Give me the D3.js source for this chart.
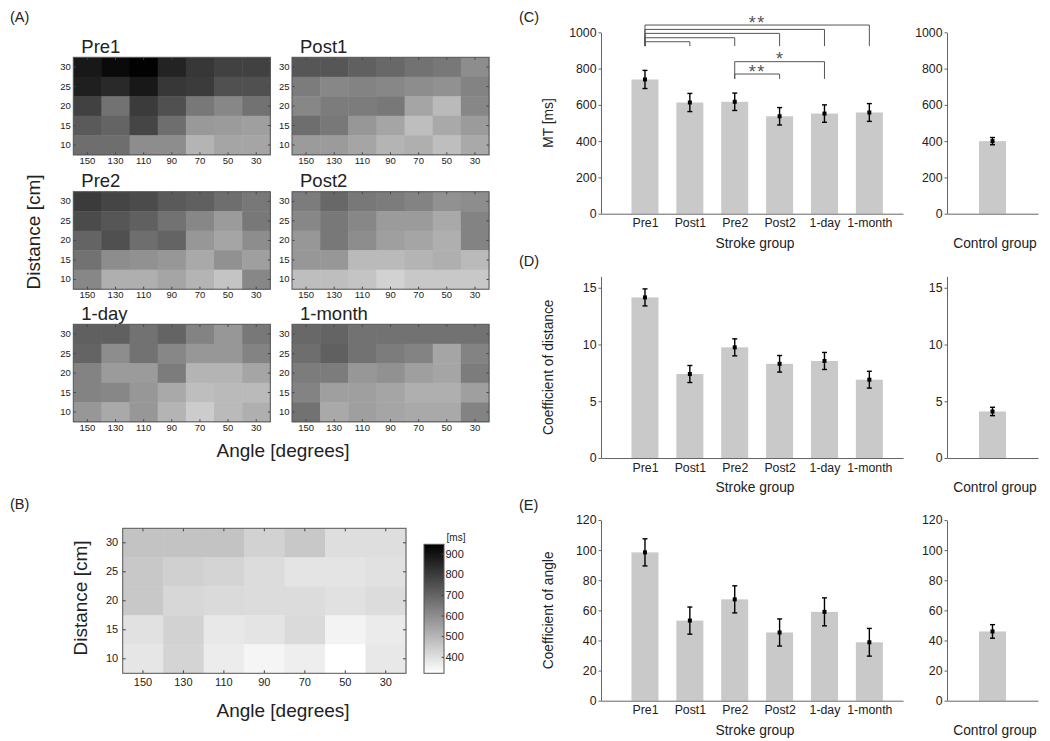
<!DOCTYPE html>
<html><head><meta charset="utf-8">
<script src="https://cdn.jsdelivr.net/npm/d3@7"></script>
<style>
body{margin:0;background:#fff;}
svg{display:block;font-family:"Liberation Sans",Arial,sans-serif;}
</style></head><body>
<svg id="fig" width="1050" height="741"></svg>
<script>
// ---------- data ----------
const angles = [150, 130, 110, 90, 70, 50, 30];
const distances = [30, 25, 20, 15, 10];
const sessions = ["Pre1", "Post1", "Pre2", "Post2", "1-day", "1-month"];

// movement time maps [ms], rows = distance 30..10, cols = angle 150..30
const mapPre1 = [
  [885, 920, 940, 860, 810, 785, 785],
  [870, 845, 885, 810, 800, 750, 750],
  [785, 665, 800, 750, 650, 615, 665],
  [725, 700, 775, 675, 570, 565, 555],
  [675, 675, 600, 600, 505, 540, 540]];
const mapPost1 = [
  [735, 735, 710, 690, 665, 650, 600],
  [640, 615, 625, 615, 600, 590, 625],
  [615, 640, 640, 650, 540, 490, 615],
  [675, 650, 575, 540, 480, 530, 565],
  [565, 565, 540, 505, 515, 480, 530]];
const mapPre2 = [
  [800, 775, 760, 725, 710, 675, 650],
  [760, 735, 710, 665, 615, 565, 650],
  [700, 750, 675, 700, 575, 540, 600],
  [665, 600, 590, 575, 530, 590, 555],
  [615, 515, 515, 540, 505, 465, 615]];
const mapPost2 = [
  [640, 690, 650, 640, 625, 590, 600],
  [615, 650, 615, 565, 565, 530, 625],
  [575, 650, 600, 555, 540, 515, 625],
  [575, 575, 490, 490, 505, 515, 490],
  [480, 480, 465, 430, 455, 455, 455]];
const map1day = [
  [710, 710, 665, 700, 625, 575, 650],
  [700, 600, 665, 615, 575, 575, 625],
  [625, 565, 565, 640, 505, 505, 540],
  [625, 615, 575, 530, 480, 490, 490],
  [575, 530, 575, 505, 445, 490, 515]];
const map1month = [
  [690, 700, 665, 665, 665, 665, 665],
  [675, 710, 665, 640, 625, 540, 625],
  [640, 640, 575, 590, 555, 540, 640],
  [625, 555, 555, 540, 515, 515, 555],
  [665, 530, 555, 540, 530, 530, 625]];
const mapControl = [
  [467, 467, 467, 430, 455, 401, 401],
  [455, 435, 425, 406, 386, 386, 394],
  [455, 418, 411, 406, 406, 394, 406],
  [394, 430, 376, 386, 411, 349, 369],
  [381, 425, 367, 344, 362, 320, 376]];
const colorLimits = [320, 945];
const colorTicks = [400, 500, 600, 700, 800, 900];

// bar data
const mtMean = [740, 613, 617, 537, 552, 558];
const mtErr = [50, 50, 48, 48, 48, 49];
const mtControl = [400], mtControlErr = [20];
const mtTicks = [0, 200, 400, 600, 800, 1000];

const cdMean = [14.15, 7.4, 9.75, 8.3, 8.55, 6.9];
const cdErr = [0.75, 0.75, 0.75, 0.73, 0.75, 0.74];
const cdControl = [4.1], cdControlErr = [0.37];
const cdTicks = [0, 5, 10, 15];

const caMean = [98.5, 53.2, 67.3, 45.3, 59.0, 38.8];
const caErr = [9, 9, 9, 9, 9.3, 9.2];
const caControl = [46], caControlErr = [4.5];
const caTicks = [0, 20, 40, 60, 80, 100, 120];

// significance brackets (panel C): from/to session index (1-based), level in ms
const sigFrom  = [1, 1, 1, 1, 1, 3, 3];
const sigTo    = [6, 5, 4, 3, 2, 5, 4];
const sigLevel = [1040, 1016, 994, 970, 948, 838, 770];
const sigFoot  = [924, 924, 924, 924, 924, 743, 743];
const sigLabel = ["**", "", "", "", "", "*", "**"];

// ---------- drawing ----------
const svg = d3.select("#fig");
svg.append("rect").attr("width", 1050).attr("height", 741).attr("fill", "#fff");
const TXT = "#222";
const gray = d3.scaleLinear().domain(colorLimits).range(["#ffffff", "#000000"]).clamp(true);

function label(x, y, t, size, opts = {}) {
  const el = svg.append("text").attr("x", x).attr("y", y).text(t)
    .attr("font-size", size).attr("fill", opts.fill || TXT)
    .attr("text-anchor", opts.anchor || "start");
  if (opts.rotate) el.attr("transform", `rotate(-90,${x},${y})`).attr("dy", "0.35em");
  return el;
}

function styleAxis(g, size) {
  g.select(".domain").remove();
  g.selectAll(".tick line").attr("stroke", "#444");
  g.selectAll("text").attr("font-size", size).attr("fill", TXT).attr("font-family", null);
}

function heatmap(data, x0, y0, w, h, fs, pad, tick) {
  const g = svg.append("g");
  const x = d3.scaleBand().domain(angles).range([x0, x0 + w]);
  const y = d3.scaleBand().domain(distances).range([y0, y0 + h]);
  const cells = data.flatMap((row, i) => row.map((v, j) => ({ d: distances[i], a: angles[j], v })));
  g.selectAll("rect.cell").data(cells).join("rect").attr("class", "cell")
    .attr("x", c => x(c.a)).attr("y", c => y(c.d))
    .attr("width", x.bandwidth() + 0.5).attr("height", y.bandwidth() + 0.5)
    .attr("fill", c => gray(c.v));
  g.append("g").attr("transform", `translate(${x0},0)`)
    .call(d3.axisLeft(y).tickSizeInner(-tick).tickSizeOuter(0).tickPadding(pad)).call(a => styleAxis(a, fs));
  g.append("g").attr("transform", `translate(${x0 + w},0)`)
    .call(d3.axisRight(y).tickSizeInner(-tick).tickSizeOuter(0).tickFormat("")).call(a => styleAxis(a, fs));
  g.append("g").attr("transform", `translate(0,${y0})`)
    .call(d3.axisTop(x).tickSizeInner(-tick).tickSizeOuter(0).tickFormat("")).call(a => styleAxis(a, fs));
  g.append("g").attr("transform", `translate(0,${y0 + h})`)
    .call(d3.axisBottom(x).tickSizeInner(-tick).tickSizeOuter(0).tickPadding(pad)).call(a => styleAxis(a, fs));
  g.append("rect").attr("x", x0).attr("y", y0).attr("width", w).attr("height", h)
    .attr("fill", "none").attr("stroke", "#555").attr("stroke-width", 1);
}

// Panel A
const aCols = [73.3, 292], aRows = [57.3, 191.7, 324.3], aW = 197, aH = 97.5;
const aMaps = [mapPre1, mapPost1, mapPre2, mapPost2, map1day, map1month];
const aTitles = ["Pre1", "Post1", "Pre2", "Post2", "1-day", "1-month"];
aMaps.forEach((m, k) => {
  const cx = aCols[k % 2], cy = aRows[Math.floor(k / 2)];
  heatmap(m, cx, cy, aW, aH, 9.5, 2.5, 2.5);
  label(cx + 8, cy - 4.6, aTitles[k], 18.5);
});
label(10, 22, "(A)", 14.5);
label(33, 232, "Distance [cm]", 19, { anchor: "middle", rotate: true });
label(283, 456.5, "Angle [degrees]", 19, { anchor: "middle" });

// Panel B
heatmap(mapControl, 122.7, 528.3, 283.3, 145, 11, 4.5, 3);
label(10, 509, "(B)", 14.5);
label(80, 598, "Distance [cm]", 19, { anchor: "middle", rotate: true });
label(283, 716.5, "Angle [degrees]", 19, { anchor: "middle" });

// colorbar
{
  const cbX = 424, cbY = 544.3, cbW = 20, cbH = 129;
  const defs = svg.append("defs");
  const grad = defs.append("linearGradient").attr("id", "cbgrad")
    .attr("x1", 0).attr("y1", 1).attr("x2", 0).attr("y2", 0);
  grad.append("stop").attr("offset", 0).attr("stop-color", gray(colorLimits[0]));
  grad.append("stop").attr("offset", 1).attr("stop-color", gray(colorLimits[1]));
  svg.append("rect").attr("x", cbX).attr("y", cbY).attr("width", cbW).attr("height", cbH)
    .attr("fill", "url(#cbgrad)").attr("stroke", "#555").attr("stroke-width", 1);
  const cs = d3.scaleLinear().domain(colorLimits).range([cbY + cbH, cbY]);
  svg.append("g").attr("transform", `translate(${cbX + cbW},0)`)
    .call(d3.axisRight(cs).tickValues(colorTicks).tickSizeInner(-2.5).tickSizeOuter(0).tickPadding(1.5))
    .call(a => styleAxis(a, 11));
  label(456, 540.5, "[ms]", 10, { anchor: "middle" });
}

// Bar panels
const AX = "#666", BAR = "#c9c9c9";
function barPanel(cfg) {
  const g = svg.append("g");
  const y = d3.scaleLinear().domain([0, cfg.yMax]).range([cfg.y0, cfg.yTop]);
  const x = d3.scaleLinear().domain([0.02, 6.75]).range([601, 903]);
  const xc = d3.scaleLinear().domain([0, 2]).range([947, 1038]);
  const bw = 27;

  function yAxis(px) {
    g.append("g").attr("transform", `translate(${px},0)`)
      .call(d3.axisLeft(y).tickValues(cfg.ticks).tickFormat(d3.format("d"))
        .tickSizeInner(2.5).tickSizeOuter(0).tickPadding(2))
      .call(a => {
        a.select(".domain").attr("stroke", AX);
        a.selectAll(".tick line").attr("stroke", AX);
        a.selectAll("text").attr("font-size", 12.3).attr("fill", TXT).attr("font-family", null);
      });
  }
  function bars(xs, idx, means, errs) {
    const d = means.map((m, i) => ({ i: idx[i], m, e: errs[i] }));
    g.selectAll(null).data(d).join("rect")
      .attr("x", v => xs(v.i) - bw / 2).attr("y", v => y(v.m))
      .attr("width", bw).attr("height", v => y(0) - y(v.m)).attr("fill", BAR);
    const eb = g.selectAll(null).data(d).join("g").attr("stroke", "#000").attr("stroke-width", 1.4);
    eb.append("line").attr("x1", v => xs(v.i)).attr("x2", v => xs(v.i))
      .attr("y1", v => y(v.m - v.e)).attr("y2", v => y(v.m + v.e));
    eb.append("line").attr("x1", v => xs(v.i) - 2.5).attr("x2", v => xs(v.i) + 2.5)
      .attr("y1", v => y(v.m - v.e)).attr("y2", v => y(v.m - v.e));
    eb.append("line").attr("x1", v => xs(v.i) - 2.5).attr("x2", v => xs(v.i) + 2.5)
      .attr("y1", v => y(v.m + v.e)).attr("y2", v => y(v.m + v.e));
    g.selectAll(null).data(d).join("rect")
      .attr("x", v => xs(v.i) - 2).attr("y", v => y(v.m) - 2).attr("width", 4).attr("height", 4).attr("fill", "#000");
  }
  bars(x, sessions.map((s, i) => i + 1), cfg.mean, cfg.err);
  bars(xc, [1], cfg.cMean, cfg.cErr);

  yAxis(601);
  yAxis(947);
  g.append("g").attr("transform", `translate(0,${cfg.y0})`)
    .call(d3.axisBottom(x).tickValues(sessions.map((s, i) => i + 1)).tickFormat(i => sessions[i - 1])
      .tickSize(0).tickPadding(5))
    .call(a => {
      a.select(".domain").attr("stroke", AX);
      a.selectAll("text").attr("font-size", 12.3).attr("fill", TXT).attr("font-family", null);
    });
  g.append("g").attr("transform", `translate(0,${cfg.y0})`)
    .call(d3.axisBottom(xc).tickValues([]).tickSizeOuter(0))
    .call(a => a.select(".domain").attr("stroke", AX));

  label(755, cfg.y0 + 34, "Stroke group", 13.8, { anchor: "middle" });
  label(995, cfg.y0 + 34, "Control group", 13.8, { anchor: "middle" });
  label(548, (cfg.y0 + cfg.yTop) / 2, cfg.ylabel, 13.8, { anchor: "middle", rotate: true });
  label(519, cfg.panelY, cfg.panel, 14.5);

  if (cfg.sig) {
    const sg = g.append("g");
    sigFrom.forEach((f, k) => {
      const xf = x(f), xt = x(sigTo[k]);
      const yl = y(sigLevel[k]), yf = y(sigFoot[k]);
      sg.append("path").attr("d", `M${xf},${yf}V${yl}H${xt}V${yf}`)
        .attr("fill", "none").attr("stroke", "#555").attr("stroke-width", 1);
      if (sigLabel[k]) {
        sg.append("text").attr("x", (xf + xt) / 2).attr("y", yl + 3.5)
          .attr("text-anchor", "middle").attr("font-size", 18).attr("fill", "#555")
          .attr("letter-spacing", sigLabel[k].length > 1 ? 1.5 : 0)
          .text(sigLabel[k]);
      }
    });
  }
}

barPanel({ y0: 213.7, yTop: 32.3, yMax: 1000, ticks: mtTicks, mean: mtMean, err: mtErr,
  cMean: mtControl, cErr: mtControlErr, ylabel: "MT [ms]", panel: "(C)", panelY: 22, sig: true });
barPanel({ y0: 458, yTop: 276.4, yMax: 16, ticks: cdTicks, mean: cdMean, err: cdErr,
  cMean: cdControl, cErr: cdControlErr, ylabel: "Coefficient of distance", panel: "(D)", panelY: 266 });
barPanel({ y0: 700.7, yTop: 520, yMax: 120, ticks: caTicks, mean: caMean, err: caErr,
  cMean: caControl, cErr: caControlErr, ylabel: "Coefficient of angle", panel: "(E)", panelY: 510 });
</script>
</body></html>
